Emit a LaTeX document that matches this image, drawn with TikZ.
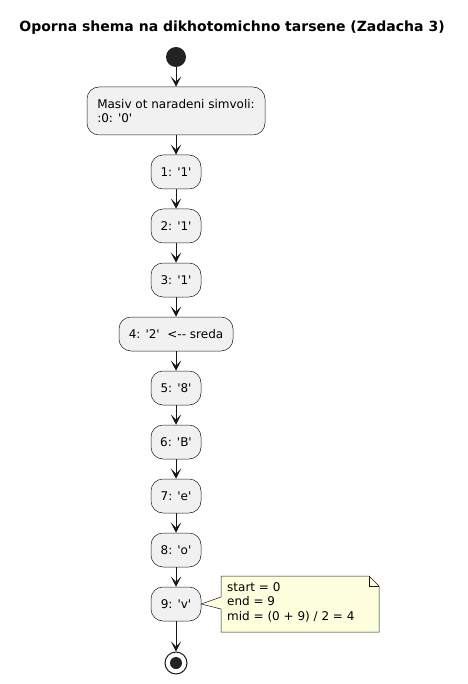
\documentclass[tikz,border=0pt]{standalone}
\usepackage{fontspec}
\newfontfamily\umlfont{DejaVu Sans}[Ligatures=TeXOff]
\usepackage{tikz}
\usetikzlibrary{arrows.meta,positioning,calc}
\usepackage{xcolor}
\definecolor{Boxfill}{RGB}{241,241,241}
\definecolor{Ink}{RGB}{24,24,24}
\definecolor{Dot}{RGB}{34,34,34}
\definecolor{Notefill}{RGB}{254,255,221}

\begin{document}
\begin{tikzpicture}[x=1pt,y=-1pt,
  actbox/.style={draw=Ink,line width=0.5pt,fill=Boxfill,rounded corners=12pt,
    minimum height=34pt,minimum width=50pt,inner sep=0pt,
    font=\umlfont\fontsize{12}{14}\selectfont},
  flow/.style={draw=Ink,line width=1pt,-{Stealth[length=10pt,width=10pt,inset=5pt]}},
  notetext/.style={inner sep=0pt,align=left,font=\umlfont\fontsize{12}{14.5}\selectfont}]
\useasboundingbox (0,0) rectangle (467,684);
\node[font=\umlfont\bfseries\fontsize{14}{16}\selectfont] (title) at (232,28) {Oporna shema na dikhotomichno tarsene (Zadacha 3)};
%
\node[circle,fill=Dot,minimum size=20pt,inner sep=0pt] (start) at (176,57) {};
\node[actbox,minimum width=178pt,minimum height=48pt,inner xsep=10pt,align=left,
  font=\umlfont\fontsize{12}{14}\selectfont] (masiv) at (176,111) {Masiv ot naradeni simvoli:\\:0: '0'};
\node[actbox] (e1) at (176,172) {1: '1'};
\node[actbox] (e2) at (176,226) {2: '1'};
\node[actbox] (e3) at (176,280) {3: '1'};
\node[actbox,minimum width=114pt] (e4) at (176,334) {4: '2'\ \ <-- sreda};
\node[actbox] (e5) at (176,388) {5: '8'};
\node[actbox] (e6) at (176,442) {6: 'B'};
\node[actbox] (e7) at (176,496) {7: 'e'};
\node[actbox] (e8) at (176,550) {8: 'o'};
\node[actbox] (e9) at (176,604) {9: 'v'};
\node[circle,draw=Ink,line width=1pt,fill=white,minimum size=22pt,inner sep=0pt] (stop) at (176,663) {};
\fill[Dot] (stop.center) circle (6pt);
%
\draw[flow] (start) -- (masiv);
\draw[flow] (masiv) -- (e1);
\draw[flow] (e1) -- (e2);
\draw[flow] (e2) -- (e3);
\draw[flow] (e3) -- (e4);
\draw[flow] (e4) -- (e5);
\draw[flow] (e5) -- (e6);
\draw[flow] (e6) -- (e7);
\draw[flow] (e7) -- (e8);
\draw[flow] (e8) -- (e9);
\draw[flow] (e9) -- (stop);
%
\draw[Ink,line width=0.5pt,fill=Notefill] (221,576) -- (369,576) -- (379,586) -- (379,632) -- (221,632) -- (221,609) -- (e9.east) -- (221,597) -- cycle;
\draw[Ink,line width=0.5pt] (369,576) -- (369,586) -- (379,586);
\node[notetext,anchor=west] (note) at (227,602) {start = 0\\end = 9\\mid = (0 + 9) / 2 = 4};
%
\end{tikzpicture}
\end{document}
